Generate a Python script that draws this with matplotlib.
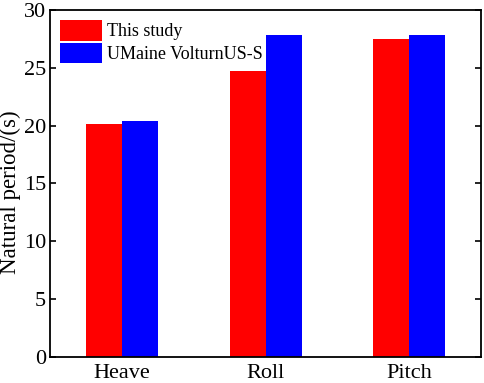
import numpy as np
import matplotlib
matplotlib.use('Agg')
import matplotlib.pyplot as plt

# Data
modes = ['Heave', 'Roll', 'Pitch']
this_study = [20.1, 24.75, 27.45]
umaine = [20.4, 27.85, 27.85]

# Font
plt.rcParams['font.family'] = 'Liberation Serif'
plt.rcParams['font.size'] = 16
plt.rcParams['xtick.direction'] = 'in'
plt.rcParams['ytick.direction'] = 'in'

fig, ax = plt.subplots(figsize=(4.84, 3.83), dpi=100)
fig.subplots_adjust(left=0.104, right=0.994, top=0.974, bottom=0.068)

x = np.arange(len(modes))
w = 0.25
ax.bar(x - w / 2, this_study, w, color='red', label='This study')
ax.bar(x + w / 2, umaine, w, color='blue', label='UMaine VolturnUS-S')

ax.set_xlim(-0.5, 2.5)
ax.set_ylim(0, 30)
ax.set_yticks(np.arange(0, 31, 5))
ax.set_xticks(x)
ax.set_xticklabels(modes)
ax.tick_params(axis='x', length=0, pad=5)
ax.tick_params(axis='y', right=True, length=4, width=1.2, pad=3)
ax.set_ylabel('Natural period/(s)', fontsize=16.5)
ax.yaxis.set_label_coords(-0.068, 0.475)
for s in ax.spines.values():
    s.set_linewidth(1.3)

ax.legend(loc='upper left', frameon=False, fontsize=13, handlelength=2.3,
          handleheight=1.4, handletextpad=0.3, labelspacing=0.1,
          borderaxespad=0.15)

plt.savefig('out.png', dpi=100)
